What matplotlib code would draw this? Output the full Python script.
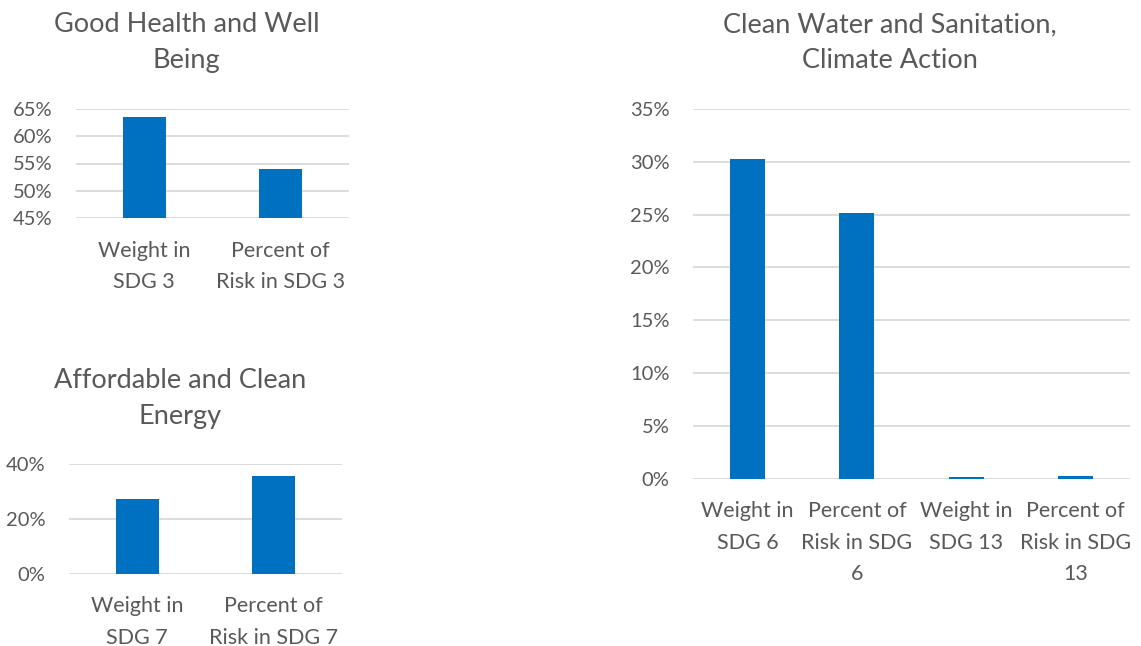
import matplotlib.pyplot as plt
from matplotlib.ticker import PercentFormatter

plt.rcParams['font.family'] = ['Lato', 'DejaVu Sans']

BLUE = '#0070C0'
GRID = '#D9D9D9'
TEXT = '#595959'

# Good Health and Well Being (SDG 3)
health_labels = ['Weight in\nSDG 3', 'Percent of\nRisk in SDG 3']
health_values = [63.5, 54.0]

# Affordable and Clean Energy (SDG 7)
energy_labels = ['Weight in\nSDG 7', 'Percent of\nRisk in SDG 7']
energy_values = [27.3, 35.6]

# Clean Water and Sanitation (SDG 6), Climate Action (SDG 13)
water_labels = ['Weight in\nSDG 6', 'Percent of\nRisk in SDG\n6',
                'Weight in\nSDG 13', 'Percent of\nRisk in SDG\n13']
water_values = [30.2, 25.1, 0.19, 0.25]

W, H = 1141, 646
fig = plt.figure(figsize=(W / 100, H / 100), dpi=100)


def add_axes_px(x0, y0, x1, y1):
    # pixel box measured from the top-left corner
    return fig.add_axes([x0 / W, 1 - y1 / H, (x1 - x0) / W, (y1 - y0) / H])


def bar_panel(ax, labels, values, ylim, step, title, width, title_x):
    x = range(len(values))
    ax.bar(x, values, width=width, color=BLUE, zorder=3)
    ax.set_xlim(-0.5, len(values) - 0.5)
    ax.set_ylim(*ylim)
    ax.set_yticks(range(ylim[0], ylim[1] + 1, step))
    ax.yaxis.set_major_formatter(PercentFormatter(decimals=0))
    ax.set_xticks(list(x))
    ax.set_xticklabels(labels, linespacing=1.72, fontsize=15.5)
    ax.grid(axis='y', color=GRID, linewidth=1.3, zorder=0)
    for s in ax.spines.values():
        s.set_visible(False)
    ax.tick_params(length=0, labelcolor=TEXT)
    ax.tick_params(axis='y', labelsize=14.5, pad=17)
    ax.tick_params(axis='x', pad=16)
    ax.set_title(title, fontsize=19.5, color=TEXT, linespacing=1.55,
                 pad=29, x=title_x)


ax1 = add_axes_px(76, 108.7, 349, 218.3)
bar_panel(ax1, health_labels, health_values, (45, 65), 5,
          'Good Health and Well\nBeing', 0.315, 0.405)

ax2 = add_axes_px(69, 464, 342, 574)
bar_panel(ax2, energy_labels, energy_values, (0, 40), 20,
          'Affordable and Clean\nEnergy', 0.315, 0.408)

ax3 = add_axes_px(693, 108.7, 1130, 479)
bar_panel(ax3, water_labels, water_values, (0, 35), 5,
          'Clean Water and Sanitation,\nClimate Action', 0.32, 0.45)

fig.savefig('out.png', dpi=100, facecolor='white')
